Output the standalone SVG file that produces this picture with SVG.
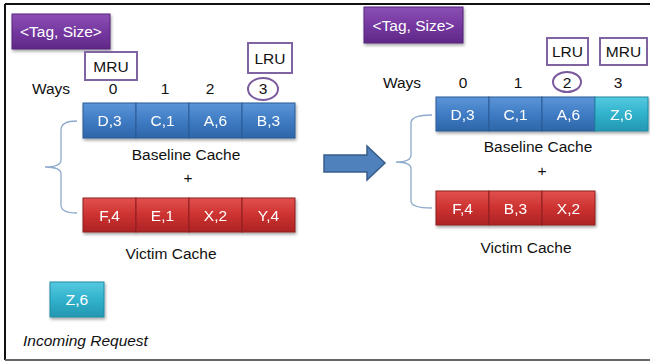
<svg xmlns="http://www.w3.org/2000/svg" width="650" height="362" viewBox="0 0 650 362">
<defs>
<linearGradient id="gBlue" x1="0" y1="0" x2="0" y2="1">
<stop offset="0" stop-color="#5d95d8"/>
<stop offset="0.5" stop-color="#3f7cc4"/>
<stop offset="1" stop-color="#2e65a8"/>
</linearGradient>
<linearGradient id="gRed" x1="0" y1="0" x2="0" y2="1">
<stop offset="0" stop-color="#e2514e"/>
<stop offset="0.5" stop-color="#cc3230"/>
<stop offset="1" stop-color="#ad2325"/>
</linearGradient>
<linearGradient id="gTeal" x1="0" y1="0" x2="0" y2="1">
<stop offset="0" stop-color="#55c9e0"/>
<stop offset="0.5" stop-color="#31b2cc"/>
<stop offset="1" stop-color="#2497b1"/>
</linearGradient>
<linearGradient id="gPurple" x1="0" y1="0" x2="0" y2="1">
<stop offset="0" stop-color="#8c50b3"/>
<stop offset="0.5" stop-color="#7538a1"/>
<stop offset="1" stop-color="#602887"/>
</linearGradient>
<filter id="sh" x="-10%" y="-10%" width="130%" height="150%">
<feDropShadow dx="1" dy="2" stdDeviation="1.5" flood-color="#000" flood-opacity="0.35"/>
</filter>
</defs>
<style>
text{font-family:"Liberation Sans",Arial,sans-serif;font-size:15.5px;text-anchor:middle;dominant-baseline:central;fill:#111}
.w{fill:#fff}
.it{font-style:italic;text-anchor:start}
.blue{fill:url(#gBlue);stroke:#2b5b95;stroke-width:1}
.red{fill:url(#gRed);stroke:#8e1f20;stroke-width:1}
.teal{fill:url(#gTeal);stroke:#1f8aa3;stroke-width:1}
.purple{fill:url(#gPurple);stroke:#55247a;stroke-width:1}
.lbl{fill:#fff;stroke:#8064a2;stroke-width:2}
.circ{fill:none;stroke:#7b5a9e;stroke-width:2}
.brace{fill:none;stroke:#8eaacc;stroke-width:1.3}
.row{filter:url(#sh)}
</style>
<rect x="0" y="0" width="650" height="362" fill="#fff"/>
<path d="M5,4 H650 M5,4 V360" stroke="#111" stroke-width="2" fill="none"/>
<path d="M5,360 H650" stroke="#666" stroke-width="2" fill="none"/>

<!-- Left panel -->
<g id="tag-left"><rect class="purple" x="12" y="14" width="98" height="35" filter="url(#sh)"/><text class="w" x="61" y="31.5">&lt;Tag, Size&gt;</text></g>
<g id="mru-left"><rect class="lbl" x="85" y="52" width="52" height="28"/><text x="111" y="66">MRU</text></g>
<g id="lru-left"><rect class="lbl" x="248" y="43" width="44" height="30"/><text x="270" y="58">LRU</text></g>
<g id="ways-left">
<text x="51" y="88">Ways</text>
<text x="113" y="88">0</text><text x="165" y="88">1</text><text x="210" y="88">2</text><text x="263" y="88">3</text>
<ellipse class="circ" cx="263" cy="89" rx="15" ry="11"/>
</g>
<g id="baseline-left" class="row">
<rect class="blue" x="83" y="103" width="53" height="35"/><text class="w" x="109.5" y="120.5">D,3</text>
<rect class="blue" x="136" y="103" width="53" height="35"/><text class="w" x="162.5" y="120.5">C,1</text>
<rect class="blue" x="189" y="103" width="53" height="35"/><text class="w" x="215.5" y="120.5">A,6</text>
<rect class="blue" x="242" y="103" width="53" height="35"/><text class="w" x="268.5" y="120.5">B,3</text>
</g>
<text x="186" y="154">Baseline Cache</text>
<text x="188" y="177">+</text>
<g id="victim-left" class="row">
<rect class="red" x="83" y="198" width="53" height="34"/><text class="w" x="109.5" y="215">F,4</text>
<rect class="red" x="136" y="198" width="53" height="34"/><text class="w" x="162.5" y="215">E,1</text>
<rect class="red" x="189" y="198" width="53" height="34"/><text class="w" x="215.5" y="215">X,2</text>
<rect class="red" x="242" y="198" width="53" height="34"/><text class="w" x="268.5" y="215">Y,4</text>
</g>
<text x="171" y="253">Victim Cache</text>
<g id="incoming"><rect class="teal" x="50" y="282" width="54" height="35" filter="url(#sh)"/><text class="w" x="77" y="299.5">Z,6</text></g>
<text class="it" x="23" y="340">Incoming Request</text>

<!-- Right panel -->
<g id="tag-right"><rect class="purple" x="364" y="7" width="99" height="36" filter="url(#sh)"/><text class="w" x="413.5" y="25">&lt;Tag, Size&gt;</text></g>
<g id="lru-right"><rect class="lbl" x="547" y="38" width="41" height="27"/><text x="567.5" y="51.5">LRU</text></g>
<g id="mru-right"><rect class="lbl" x="600" y="38" width="47" height="27"/><text x="623.5" y="51.5">MRU</text></g>
<g id="ways-right">
<text x="402" y="82">Ways</text>
<text x="463" y="82">0</text><text x="518" y="82">1</text><text x="567" y="82">2</text><text x="618" y="82">3</text>
<ellipse class="circ" cx="567" cy="82" rx="14" ry="10"/>
</g>
<g id="baseline-right" class="row">
<rect class="blue" x="436" y="97" width="53" height="34"/><text class="w" x="462.5" y="114">D,3</text>
<rect class="blue" x="489" y="97" width="53" height="34"/><text class="w" x="515.5" y="114">C,1</text>
<rect class="blue" x="542" y="97" width="53" height="34"/><text class="w" x="568.5" y="114">A,6</text>
<rect class="teal" x="595" y="97" width="53" height="34"/><text class="w" x="621.5" y="114">Z,6</text>
</g>
<text x="538" y="146">Baseline Cache</text>
<text x="542" y="170">+</text>
<g id="victim-right" class="row">
<rect class="red" x="436" y="191" width="53" height="34"/><text class="w" x="462.5" y="208">F,4</text>
<rect class="red" x="489" y="191" width="53" height="34"/><text class="w" x="515.5" y="208">B,3</text>
<rect class="red" x="542" y="191" width="53" height="34"/><text class="w" x="568.5" y="208">X,2</text>
</g>
<text x="526" y="247">Victim Cache</text>

<g id="connectors">
<path class="brace" d="M77,121 C67,121 61,123 61,130 L61,160 C61,165 56,167 45,167 C56,167 61,169 61,174 L61,205 C61,211 67,213 77,213"/>
<path class="brace" d="M432,115 C420,115 411,117 411,123 L411,155 C411,160 405,162 396,162 C405,162 411,164 411,169 L411,201 C411,206 420,208 432,208"/>
<polygon points="324,155 367,155 367,146 385,163 367,180 367,172 324,172" fill="#4f81bd" stroke="#385d8a" stroke-width="1.5"/>
</g>
</svg>
